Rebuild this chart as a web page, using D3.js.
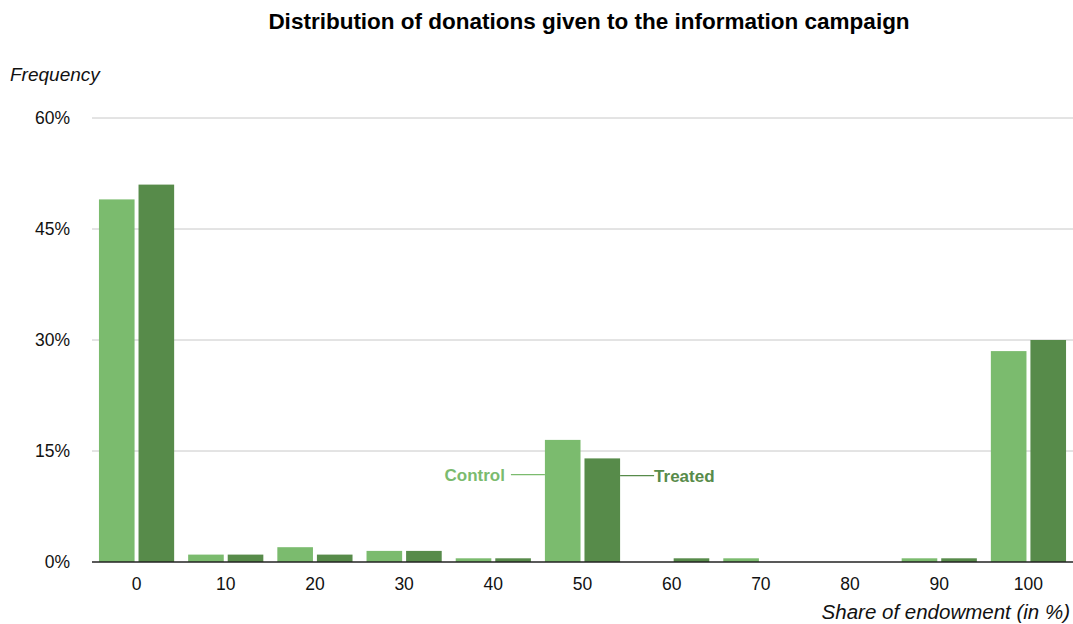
<!DOCTYPE html>
<html>
<head>
<meta charset="utf-8">
<script src="https://cdn.jsdelivr.net/npm/d3@7"></script>
<style>
  body { margin: 0; background: #fff; }
  svg { display: block; font-family: "Helvetica Neue", Helvetica, "Liberation Sans", Arial, sans-serif; }
  .grid line { stroke: #c8c8c8; stroke-width: 1; }
  .tick-label { font-size: 17.5px; fill: #111; }
</style>
</head>
<body>
<div id="chart"></div>
<script>
// data
var categories = ["0", "10", "20", "30", "40", "50", "60", "70", "80", "90", "100"];
var control = [49, 1, 2, 1.5, 0.5, 16.5, 0, 0.5, 0, 0.5, 28.5];
var treated = [51, 1, 1, 1.5, 0.5, 14, 0.5, 0, 0, 0.5, 30];
var yTicks = [0, 15, 30, 45, 60];
var seriesNames = ["Control", "Treated"];
var colors = ["#7bbb6e", "#578b4a"];

var width = 1073, height = 624;
var margin = { top: 118, right: 0, bottom: 62, left: 92 };
var plotW = width - margin.left - margin.right,
    plotH = height - margin.top - margin.bottom;

var svg = d3.select("#chart").append("svg")
  .attr("width", width)
  .attr("height", height);

var x = d3.scaleBand().domain(categories).range([0, plotW]).paddingInner(0.157).paddingOuter(0.078);
var x1 = d3.scaleBand().domain(seriesNames).range([0, x.bandwidth()]).paddingInner(0.1);
var y = d3.scaleLinear().domain([0, 60]).range([plotH, 0]);

var g = svg.append("g").attr("transform", "translate(" + margin.left + "," + margin.top + ")");

// title
svg.append("text")
  .attr("x", 589).attr("y", 29)
  .attr("text-anchor", "middle")
  .style("font-size", "22.5px").style("font-weight", "bold")
  .text("Distribution of donations given to the information campaign");

// gridlines
g.append("g").attr("class", "grid")
  .selectAll("line").data(yTicks.filter(function(d) { return d > 0; }))
  .enter().append("line")
  .attr("x1", 0).attr("x2", plotW)
  .attr("y1", function(d) { return y(d); })
  .attr("y2", function(d) { return y(d); });

// y tick labels
g.selectAll(".ylab").data(yTicks).enter().append("text")
  .attr("class", "tick-label")
  .attr("x", -22)
  .attr("y", function(d) { return y(d) + 6; })
  .attr("text-anchor", "end")
  .text(function(d) { return d + "%"; });

// bars
var rows = categories.map(function(c, i) { return { cat: c, vals: [control[i], treated[i]] }; });
var groups = g.selectAll(".grp").data(rows).enter().append("g")
  .attr("transform", function(d) { return "translate(" + x(d.cat) + ",0)"; });
groups.selectAll("rect")
  .data(function(d) { return d.vals.map(function(v, j) { return { name: seriesNames[j], v: v, j: j }; }); })
  .enter().append("rect")
  .attr("x", function(d) { return x1(d.name); })
  .attr("width", x1.bandwidth())
  .attr("y", function(d) { return y(d.v); })
  .attr("height", function(d) { return plotH - y(d.v); })
  .attr("fill", function(d) { return colors[d.j]; });

// baseline
g.append("line")
  .attr("x1", 0).attr("x2", plotW)
  .attr("y1", plotH).attr("y2", plotH)
  .attr("stroke", "#222").attr("stroke-width", 1.5);

// x tick labels
g.selectAll(".xlab").data(categories).enter().append("text")
  .attr("class", "tick-label")
  .attr("x", function(d) { return x(d) + x.bandwidth() / 2; })
  .attr("y", plotH + 28)
  .attr("text-anchor", "middle")
  .text(function(d) { return d; });

// axis titles
svg.append("text")
  .attr("x", 10).attr("y", 81)
  .style("font-size", "19px").style("font-style", "italic").attr("fill", "#111")
  .text("Frequency");
svg.append("text")
  .attr("x", 1070).attr("y", 619)
  .attr("text-anchor", "end")
  .style("font-size", "20.5px").style("font-style", "italic").attr("fill", "#111")
  .text("Share of endowment (in %)");

// inline series labels at the 50 group
var labelCat = "50";
var lx0 = x(labelCat) + x1("Control"),
    lx1 = x(labelCat) + x1("Treated") + x1.bandwidth();
var ly = y(11.8);
g.append("line").attr("x1", lx0 - 34).attr("x2", lx0).attr("y1", ly).attr("y2", ly)
  .attr("stroke", colors[0]).attr("stroke-width", 1.2);
g.append("text").attr("x", lx0 - 40).attr("y", ly + 6)
  .attr("text-anchor", "end")
  .style("font-size", "17px").style("font-weight", "bold").attr("fill", colors[0])
  .text("Control");
g.append("line").attr("x1", lx1).attr("x2", lx1 + 34).attr("y1", ly + 1).attr("y2", ly + 1)
  .attr("stroke", colors[1]).attr("stroke-width", 1.2);
g.append("text").attr("x", lx1 + 34).attr("y", ly + 7)
  .style("font-size", "17px").style("font-weight", "bold").attr("fill", colors[1])
  .text("Treated");
</script>
</body>
</html>
